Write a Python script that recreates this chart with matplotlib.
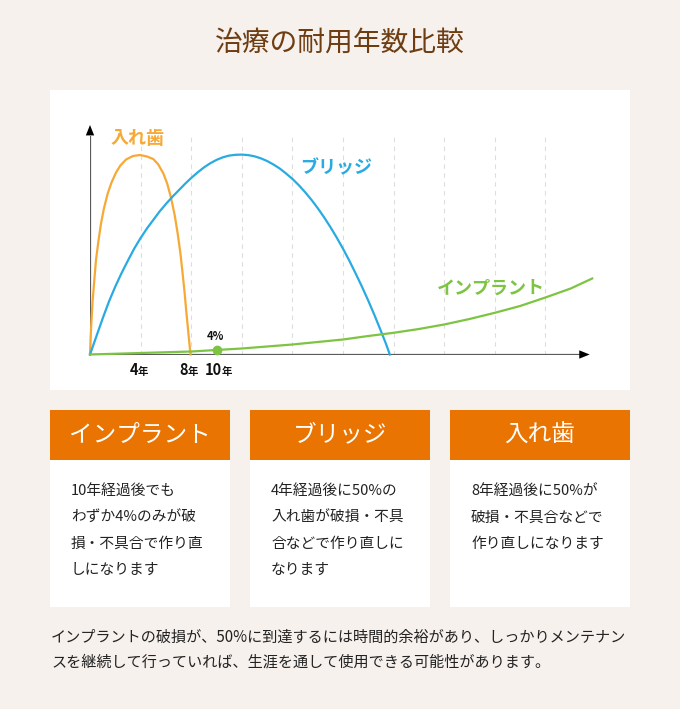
import matplotlib
matplotlib.use("Agg")
import matplotlib.pyplot as plt
from matplotlib.patches import Rectangle
from matplotlib.offsetbox import TextArea, HPacker, AnnotationBbox

plt.rcParams['font.family'] = ['Noto Sans CJK JP', 'DejaVu Sans']

# 曲線データ（横軸: 年数, 縦軸: 相対値） 画像から読み取り
denture_x = [0, 0.05, 0.1, 0.21, 0.3, 0.47, 0.65, 0.87, 1.1, 1.4, 1.7, 2.06, 2.4, 2.85, 3.4, 3.95,
             4.5, 5.0, 5.4, 5.8, 6.1, 6.4, 6.7, 6.93, 7.15, 7.33, 7.47, 7.59, 7.72, 7.85, 7.95]
denture_y = [0, 17, 30, 54, 68, 94, 112, 131, 146, 161, 172, 182, 189, 195, 198.5, 199.5,
             198, 195.5, 190, 181, 171, 157, 139, 121, 101, 80, 63, 46, 29, 12, 0]

bridge_x = [0, 0.5, 1, 1.5, 2, 2.5, 3, 3.5, 4, 4.5, 5, 5.5, 6, 6.5, 7, 7.5, 8, 8.5, 9, 9.5, 10,
            10.5, 11, 11.5, 12, 12.5, 13, 13.5, 14, 14.5, 15, 15.5, 16, 16.5, 17, 17.5, 18,
            18.5, 19, 19.5, 20, 20.5, 21, 21.5, 22, 22.5, 23, 23.4, 23.7]
bridge_y = [0, 18, 36, 53, 68, 81.5, 94, 106, 116.5, 126, 134.5, 143, 150.5, 157.5, 164,
            170.5, 176.5, 182, 187, 191.2, 194.6, 197.2, 198.9, 199.7, 199.9, 199.4, 198.2,
            196.2, 193.5, 190, 186, 181, 175.6, 169.4, 162.4, 154.8, 146.4, 137.3, 127.5, 117,
            105.8, 93.8, 81, 67.8, 53.8, 39, 23.4, 10.6, 0]

implant_x = [0, 4, 8, 10, 12, 14, 16, 18, 20, 22, 24, 26, 28, 30, 32, 34, 36, 38, 39.7]
implant_y = [0, 1.5, 3, 4.5, 6, 8, 10, 12.5, 15, 18.5, 21.7, 25.5, 30, 35.5, 41.7, 48.5, 57, 66, 76]

implant_mark_x = 10
implant_mark_y = 4.5
implant_mark_label = "4%"

tick_years = ["4", "8", "10"]
grid_years = [4, 8, 12, 16, 20, 24, 28, 32, 36]

title = "治療の耐用年数比較"
card_titles = ["インプラント", "ブリッジ", "入れ歯"]
card_texts = [
    ["10年経過後でも", "わずか4%のみが破", "損・不具合で作り直", "しになります"],
    ["4年経過後に50%の", "入れ歯が破損・不具", "合などで作り直しに", "なります"],
    ["8年経過後に50%が", "破損・不具合などで", "作り直しになります"],
]
footer = [
    "インプラントの破損が、50%に到達するには時間的余裕があり、しっかりメンテナン",
    "スを継続して行っていれば、生涯を通して使用できる可能性があります。",
]

BG = "#f6f1ed"
ORANGE_HEAD = "#e97402"
C_DENT = "#f7a935"
C_BRIDGE = "#29abe2"
C_IMPL = "#7dc443"

W, H = 680, 709
fig = plt.figure(figsize=(W / 100, H / 100), dpi=100)
fig.patch.set_facecolor(BG)

# 背景レイヤー（ピクセル座標）
bg = fig.add_axes([0, 0, 1, 1])
bg.set_xlim(0, W)
bg.set_ylim(H, 0)
bg.axis("off")

bg.text(340, 43, title, ha="center", va="center", fontsize=20, color="#6e3d12")
bg.add_patch(Rectangle((50, 90), 580, 300, facecolor="white", edgecolor="none"))

for i, (head, lines) in enumerate(zip(card_titles, card_texts)):
    left = 50 + i * 200
    bg.add_patch(Rectangle((left, 410), 180, 50, facecolor=ORANGE_HEAD, edgecolor="none"))
    bg.add_patch(Rectangle((left, 460), 180, 147, facecolor="white", edgecolor="none"))
    bg.text(left + 90, 435, head, ha="center", va="center", fontsize=17, color="white")
    for j, line in enumerate(lines):
        bg.text(left + 21, 492 + j * 25.8, line, ha="left", va="center",
                fontsize=10.6, color="#222222")

for j, line in enumerate(footer):
    bg.text(51, 637 + j * 25, line, ha="left", va="center", fontsize=10.9, color="#222222")

# グラフ部分
px_per_year = 12.65
x0, y0, ytop = 90, 354.5, 125
ax = fig.add_axes([x0 / W, (H - y0) / H, 40 * px_per_year / W, (y0 - ytop) / H])
ax.set_xlim(0, 40)
ax.set_ylim(0, y0 - ytop)
ax.axis("off")
ax.patch.set_alpha(0)

ax.vlines(grid_years, 0, 221, colors="#dddddd", linestyles=(0, (4, 4)), lw=0.8, zorder=1)

ax.plot([0, 0], [0, 219], color="#5a5a5a", lw=1.6, solid_capstyle="butt", zorder=2)
ax.plot([0, 38.8], [0, 0], color="#5a5a5a", lw=1.6, solid_capstyle="butt", zorder=2)
head = dict(arrowstyle="-|>,head_length=0.75,head_width=0.3", color="black", lw=0,
            shrinkA=0, shrinkB=0)
ax.annotate("", xy=(0, y0 - ytop), xytext=(0, y0 - ytop - 12), arrowprops=head,
            annotation_clip=False)
ax.annotate("", xy=(39.5, 0), xytext=(38.5, 0), arrowprops=head, annotation_clip=False)

ax.plot(denture_x, denture_y, color=C_DENT, lw=1.6, zorder=3, clip_on=False,
        solid_joinstyle="round")
ax.plot(bridge_x, bridge_y, color=C_BRIDGE, lw=1.6, zorder=3, clip_on=False,
        solid_joinstyle="round")
ax.plot(implant_x, implant_y, color=C_IMPL, lw=1.6, zorder=4, clip_on=False,
        solid_joinstyle="round")
ax.plot([implant_mark_x], [implant_mark_y], "o", color=C_IMPL, ms=6, zorder=5)
ax.text(implant_mark_x - 0.1, implant_mark_y + 13, implant_mark_label, ha="center",
        va="center", fontsize=8, fontweight="bold", color="#111111")

ax.text(3.75, 215.5, "入れ歯", ha="center", va="center", fontsize=13,
        fontweight="bold", color=C_DENT)
ax.text(19.45, 186.5, "ブリッジ", ha="center", va="center", fontsize=13,
        fontweight="bold", color=C_BRIDGE)
ax.text(31.7, 66.5, "インプラント", ha="center", va="center", fontsize=13,
        fontweight="bold", color=C_IMPL)

label_shift = [-0.15, -0.2, 0.15]
for yr, dx in zip(tick_years, label_shift):
    box = HPacker(children=[
        TextArea(yr, textprops=dict(fontsize=10.5, fontweight="bold", color="#111111")),
        TextArea("年", textprops=dict(fontsize=7.5, fontweight="bold", color="#111111")),
    ], align="baseline", pad=0, sep=0)
    ab = AnnotationBbox(box, (float(yr) + dx, -15.5), frameon=False, box_alignment=(0.5, 0.5),
                        annotation_clip=False, pad=0)
    ax.add_artist(ab)

fig.savefig("out.png", dpi=100, facecolor=BG)
